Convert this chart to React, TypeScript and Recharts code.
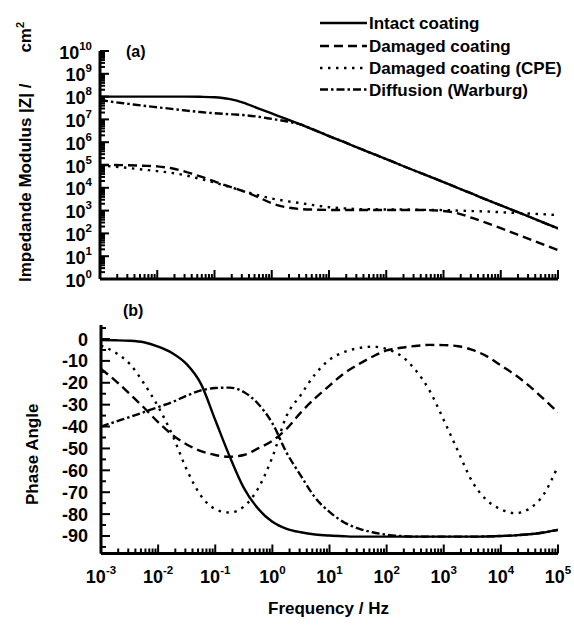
import React from 'react';
import { LineChart, Line, XAxis, YAxis, Legend } from 'recharts';

// Frequencies (Hz), quarter-decade sampling from 1e-3 to 1e5
const frequencies = [
  0.001, 0.00178, 0.00316, 0.00562, 0.01, 0.0178, 0.0316, 0.0562, 0.1, 0.178, 0.316, 0.562,
  1, 1.78, 3.16, 5.62, 10, 17.8, 31.6, 56.2, 100, 178, 316, 562, 1000, 1780, 3160, 5620,
  10000, 17800, 31600, 56200, 100000,
];

// |Z| (ohm cm^2)
const intactModulus = [
  1.0e8, 1.0e8, 1.0e8, 1.0e8, 1.0e8, 1.0e8, 1.0e8, 9.8e7, 9.3e7, 7.9e7, 5.5e7, 3.16e7,
  1.82e7, 1.05e7, 6.0e6, 3.4e6, 1.86e6, 1.05e6, 5.75e5, 3.24e5, 1.82e5, 1.0e5, 5.6e4, 3.16e4,
  1.78e4, 9.8e3, 5.5e3, 3.0e3, 1.7e3, 955, 537, 295, 166,
];
const damagedModulus = [
  1.0e5, 1.0e5, 9.8e4, 9.3e4, 8.7e4, 7.2e4, 5.0e4, 3.16e4, 1.9e4, 1.15e4, 7.1e3, 4.0e3,
  2.1e3, 1.41e3, 1.17e3, 1.1e3, 1.07e3, 1.07e3, 1.07e3, 1.07e3, 1.07e3, 1.07e3, 1.07e3, 1.05e3,
  955, 759, 479, 288, 170, 98, 56, 32, 18.6,
];
const cpeModulus = [
  9.5e4, 8.5e4, 7.4e4, 6.3e4, 5.4e4, 4.5e4, 3.5e4, 2.45e4, 1.7e4, 1.12e4, 7.2e3, 4.8e3,
  3.4e3, 2.63e3, 2.14e3, 1.7e3, 1.41e3, 1.26e3, 1.17e3, 1.15e3, 1.12e3, 1.12e3, 1.1e3, 1.07e3,
  1.05e3, 1.0e3, 955, 912, 851, 794, 741, 692, 631,
];
const warburgModulus = [
  7.1e7, 5.75e7, 4.8e7, 4.0e7, 3.4e7, 2.9e7, 2.45e7, 2.1e7, 1.86e7, 1.7e7, 1.55e7, 1.32e7,
  1.05e7, 8.3e6, 6.0e6, 3.4e6, 1.86e6, 1.05e6, 5.75e5, 3.24e5, 1.82e5, 1.0e5, 5.6e4, 3.16e4,
  1.78e4, 9.8e3, 5.5e3, 3.0e3, 1.7e3, 955, 537, 295, 166,
];

// Phase angle (degrees)
const intactPhase = [
  -0.5, -0.6, -0.8, -1.5, -3.5, -6.5, -11.5, -20.5, -37, -53.5, -68, -77.5,
  -83.5, -86.7, -88.3, -89.3, -89.8, -90.1, -90.3, -90.3, -90.3, -90.3, -90.3, -90.3,
  -90.3, -90.3, -90.3, -90.2, -90.0, -89.7, -89.2, -88.4, -87.2,
];
const damagedPhase = [
  -13.7, -19, -25, -31.3, -38, -43.8, -48.2, -51.2, -53, -53.8, -53, -50,
  -46.5, -41, -33.5, -27, -21.3, -15.8, -11.7, -8.1, -5.2, -4.0, -3.2, -2.7,
  -2.8, -3.3, -5.0, -7.8, -12.1, -16.4, -21.5, -27.4, -33.5,
];
const cpePhase = [
  -3, -6.2, -11.3, -20.2, -30.9, -43.9, -59.6, -71.6, -77.7, -79.3, -76.6, -68.3,
  -54, -35, -25.5, -16, -9.5, -6, -4.2, -3.5, -4.6, -7.6, -14, -23.5,
  -37, -51.3, -65.2, -73.6, -77.8, -79.6, -77.5, -71, -58,
];
const warburgPhase = [
  -40, -37.8, -35.7, -33.4, -31.1, -28.8, -25.9, -23.5, -22.4, -22.2, -24.2, -29.6,
  -38.5, -52, -62.5, -72.5, -79, -83.7, -86.5, -88.3, -89.4, -90.0, -90.3, -90.3,
  -90.3, -90.3, -90.3, -90.2, -90.0, -89.7, -89.2, -88.4, -87.2,
];

const seriesKeys = ['intact', 'damaged', 'cpe', 'warburg'];
const seriesNames = ['Intact coating', 'Damaged coating', 'Damaged coating (CPE)', 'Diffusion (Warburg)'];

// Axis ticks
const freqMajorTicks = [0.001, 0.01, 0.1, 1, 10, 100, 1000, 10000, 100000];
const modulusMajorTicks = [1, 10, 100, 1e3, 1e4, 1e5, 1e6, 1e7, 1e8, 1e9, 1e10];
const phaseMajorTicks = [0, -10, -20, -30, -40, -50, -60, -70, -80, -90];
const phaseMinorTicks = [5, -5, -15, -25, -35, -45, -55, -65, -75, -85, -95];

const withLogMinors = (majors: number[]) => {
  const out: number[] = [];
  majors.forEach((m, i) => {
    out.push(m);
    if (i < majors.length - 1) {
      for (let k = 2; k <= 9; k++) out.push(+(m * k).toPrecision(6));
    }
  });
  return out;
};
const freqTicks = withLogMinors(freqMajorTicks);
const modulusTicks = withLogMinors(modulusMajorTicks);
const phaseTicks = [...phaseMajorTicks, ...phaseMinorTicks].sort((a, b) => b - a);

const modulusRows = frequencies.map((f, i) => ({
  f,
  intact: intactModulus[i],
  damaged: damagedModulus[i],
  cpe: cpeModulus[i],
  warburg: warburgModulus[i],
}));
const phaseRows = frequencies.map((f, i) => ({
  f,
  intact: intactPhase[i],
  damaged: damagedPhase[i],
  cpe: cpePhase[i],
  warburg: warburgPhase[i],
}));

const FONT = '"Liberation Sans", Arial, Helvetica, sans-serif';
const TICK_W = 2;
const MAJOR_LEN = 9;
const MINOR_LEN = 5;
const LINE_W = 2.4;

const isDecade = (v: number) => {
  const l = Math.log10(v);
  return Math.abs(l - Math.round(l)) < 1e-6;
};

const FreqTick = (props: any) => {
  const { x, y, payload, showLabel } = props;
  const v = payload.value;
  const major = isDecade(v);
  const e = Math.round(Math.log10(v));
  const len = major ? MAJOR_LEN : MINOR_LEN;
  return (
    <g>
      <rect x={x - TICK_W / 2} y={y - len} width={TICK_W} height={len} fill="#000" />
      {major && showLabel ? (
        <text x={x} y={y + 29.5} textAnchor="middle" fontFamily={FONT} fontWeight="bold" fontSize={18} fill="#000">
          10
          <tspan dy={-9} fontSize={11.5}>
            {e}
          </tspan>
        </text>
      ) : null}
    </g>
  );
};

const ModulusTick = (props: any) => {
  const { x, y, payload } = props;
  const v = payload.value;
  const major = isDecade(v);
  const e = Math.round(Math.log10(v));
  const len = major ? MAJOR_LEN : MINOR_LEN;
  return (
    <g>
      <rect x={x} y={y - TICK_W / 2} width={len} height={TICK_W} fill="#000" />
      {major ? (
        <text x={x - 8} y={y + 7.5} textAnchor="end" fontFamily={FONT} fontWeight="bold" fontSize={18} fill="#000">
          10
          <tspan dy={-9} fontSize={11.5}>
            {e}
          </tspan>
        </text>
      ) : null}
    </g>
  );
};

const PhaseTick = (props: any) => {
  const { x, y, payload } = props;
  const v = payload.value;
  const major = v % 10 === 0;
  const len = major ? MAJOR_LEN : MINOR_LEN;
  return (
    <g>
      <rect x={x} y={y - TICK_W / 2} width={len} height={TICK_W} fill="#000" />
      {major ? (
        <text x={x - 13} y={y + 6.5} textAnchor="end" fontFamily={FONT} fontWeight="bold" fontSize={18} fill="#000">
          {v}
        </text>
      ) : null}
    </g>
  );
};

const lineStyles: Record<string, string | undefined> = {
  intact: undefined,
  damaged: '9 5',
  cpe: '2.5 5.5',
  warburg: '8 3 2.5 3',
};

const LegendContent = () => {
  const baselines = [29, 52, 74, 95.5];
  return (
    <svg width={256} height={102} style={{ display: 'block', overflow: 'visible' }}>
      {seriesKeys.map((key, i) => {
        const cy = baselines[i] - 6;
        return (
          <g key={key}>
            <line x1={2} x2={49} y1={cy} y2={cy} stroke="#000" strokeWidth={LINE_W} strokeDasharray={lineStyles[key]} />
            <text x={51} y={baselines[i]} fontFamily={FONT} fontWeight="bold" fontSize={17} fill="#000">
              {seriesNames[i]}
            </text>
          </g>
        );
      })}
    </svg>
  );
};

const renderLines = () =>
  seriesKeys.map((k, i) => (
    <Line
      key={k}
      dataKey={k}
      name={seriesNames[i]}
      type="monotone"
      stroke="#000"
      strokeWidth={LINE_W}
      strokeDasharray={lineStyles[k]}
      dot={false}
      activeDot={false}
      isAnimationActive={false}
    />
  ));

const AXIS_LINE = { stroke: '#000', strokeWidth: 3 };

export default function App() {
  return (
    <div style={{ position: 'absolute', left: 0, top: 0, width: 574, height: 626, background: '#fff' }}>
      <div style={{ position: 'absolute', left: 0, top: 0 }}>
        <LineChart width={574} height={300} data={modulusRows} margin={{ top: 51, right: 16, bottom: 11, left: 40 }}>
          <XAxis
            dataKey="f"
            type="number"
            scale="log"
            domain={[0.001, 100000]}
            ticks={freqTicks}
            interval={0}
            allowDataOverflow
            height={10}
            tickSize={0}
            tickMargin={0}
            tickLine={false}
            axisLine={AXIS_LINE}
            tick={(p: any) => <FreqTick {...p} showLabel={false} />}
          />
          <YAxis
            type="number"
            scale="log"
            domain={[1, 1e10]}
            ticks={modulusTicks}
            interval={0}
            allowDataOverflow
            width={60}
            tickSize={0}
            tickMargin={0}
            tickLine={false}
            axisLine={AXIS_LINE}
            tick={(p: any) => <ModulusTick {...p} />}
          />
          <Legend
            layout="vertical"
            align="center"
            verticalAlign="middle"
            wrapperStyle={{ left: 318, top: 0, width: 256, height: 102 }}
            content={() => <LegendContent />}
          />
          {renderLines()}
        </LineChart>
      </div>
      <div style={{ position: 'absolute', left: 0, top: 300 }}>
        <LineChart width={574} height={326} data={phaseRows} margin={{ top: 25, right: 16, bottom: 22.5, left: 41 }}>
          <XAxis
            dataKey="f"
            type="number"
            scale="log"
            domain={[0.001, 100000]}
            ticks={freqTicks}
            interval={0}
            allowDataOverflow
            height={50}
            tickSize={0}
            tickMargin={0}
            tickLine={false}
            axisLine={AXIS_LINE}
            tick={(p: any) => <FreqTick {...p} showLabel />}
          />
          <YAxis
            type="number"
            domain={[-98, 6.4]}
            ticks={phaseTicks}
            interval={0}
            allowDataOverflow
            width={60}
            tickSize={0}
            tickMargin={0}
            tickLine={false}
            axisLine={AXIS_LINE}
            tick={(p: any) => <PhaseTick {...p} />}
          />
          {renderLines()}
        </LineChart>
      </div>
      <svg width={574} height={626} style={{ position: 'absolute', left: 0, top: 0, pointerEvents: 'none' }}>
        <text x={126} y={57} fontFamily={FONT} fontWeight="bold" fontSize={16} fill="#000">
          (a)
        </text>
        <text x={123} y={316} fontFamily={FONT} fontWeight="bold" fontSize={16} fill="#000">
          (b)
        </text>
        <text transform="rotate(-90)" x={-282} y={30.5} fontFamily={FONT} fontWeight="bold" fontSize={17} fill="#000">
          Impedande Modulus |Z| /
          <tspan dx={31}>cm</tspan>
          <tspan dy={-7} fontSize={11}>
            2
          </tspan>
        </text>
        <text transform="rotate(-90)" x={-505} y={37.5} fontFamily={FONT} fontWeight="bold" fontSize={17} fill="#000">
          Phase Angle
        </text>
        <text x={328.5} y={614} textAnchor="middle" fontFamily={FONT} fontWeight="bold" fontSize={17} fill="#000">
          Frequency / Hz
        </text>
      </svg>
    </div>
  );
}
